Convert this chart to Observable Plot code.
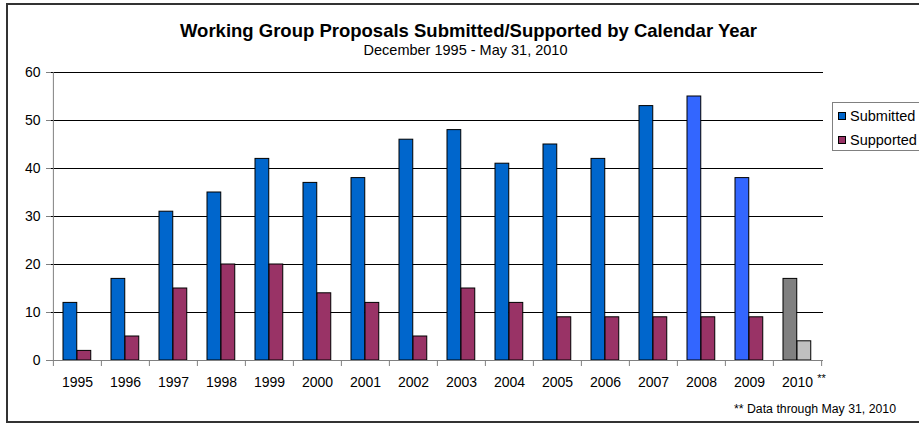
<!DOCTYPE html>
<html>
<head>
<meta charset="utf-8">
<script src="https://cdn.jsdelivr.net/npm/d3@7"></script>
<script src="https://cdn.jsdelivr.net/npm/@observablehq/plot@0.6"></script>
<style>
  html, body { margin: 0; padding: 0; background: #fff; }
  body { width: 919px; height: 424px; overflow: hidden; position: relative; font-family: "Liberation Sans", Arial, sans-serif; }
  #frame { position: absolute; left: 6px; top: 3px; width: 1000px; height: 416px; border-left: 2px solid #333; border-top: 2px solid #333; border-bottom: 2px solid #333; }
  #chart { position: absolute; left: 0; top: 0; }
  .t { position: absolute; white-space: nowrap; color: #000; line-height: 1.15; }
  #title { left: 0; width: 937px; text-align: center; top: 20px; font-size: 18.5px; font-weight: bold; }
  #subtitle { left: 0; width: 931px; text-align: center; top: 41.5px; font-size: 14.5px; }
  #caption { left: 734px; top: 402px; font-size: 12.3px; }
  #legend { position: absolute; left: 832px; top: 102px; width: 120px; height: 47px; border: 1px solid #808080; background: #fff; }
  .li { position: absolute; left: 5px; font-size: 14.5px; line-height: 16px; white-space: nowrap; }
  .sw { display: inline-block; width: 6px; height: 6px; border: 1px solid #000; margin-right: 4px; vertical-align: 1px; }
</style>
</head>
<body>
<div id="frame"></div>
<div id="chart"></div>
<div class="t" id="title">Working Group Proposals Submitted/Supported by Calendar Year</div>
<div class="t" id="subtitle">December 1995 - May 31, 2010</div>
<div id="legend"></div>
<div class="t" id="caption">** Data through May 31, 2010</div>
<script>
const years = ["1995","1996","1997","1998","1999","2000","2001","2002","2003","2004","2005","2006","2007","2008","2009","2010"];
const submitted = [12,17,31,35,42,37,38,46,48,41,45,42,53,55,38,17];
const supported = [2,5,15,20,20,14,12,5,15,12,9,9,9,9,9,4];
const seriesNames = ["Submitted","Supported"];
const yTicks = [0,10,20,30,40,50,60];
const footnoteMark = "**";

const W = 919, H = 424, mL = 51, mR = 96, mT = 72, mB = 64;
const bw = (W - mL - mR) / years.length;

const rows = years.map((y, i) => ({year: y, submitted: submitted[i], supported: supported[i]}));

const subColor = d => d.year === "2010" ? "#808080" : (d.year === "2008" || d.year === "2009") ? "#3366FF" : "#0066CC";
const supColor = d => d.year === "2010" ? "#C0C0C0" : "#993366";

const barW = 14, outer = 10;

const plot = Plot.plot({
  width: W, height: H,
  marginLeft: mL, marginRight: mR, marginTop: mT, marginBottom: mB,
  style: {fontFamily: "'Liberation Sans', Arial, sans-serif", fontSize: "14px", background: "transparent"},
  x: {type: "band", domain: years, padding: 0, label: null},
  y: {domain: [0, 60], label: null},
  color: {type: "identity"},
  marks: [
    Plot.ruleY(yTicks.filter(v => v > 0), {stroke: "#000", strokeWidth: 1}),
    Plot.barY(rows, {x: "year", y: "submitted", fill: subColor, stroke: "#000", strokeWidth: 1,
      insetLeft: outer, insetRight: bw - outer - barW}),
    Plot.barY(rows, {x: "year", y: "supported", fill: supColor, stroke: "#000", strokeWidth: 1,
      insetLeft: outer + barW, insetRight: bw - outer - 2 * barW}),
    Plot.ruleX([years[0]], {dx: -bw / 2, stroke: "#808080"}),
    Plot.ruleY([0], {stroke: "#808080"}),
    Plot.ruleX(years, {dx: -bw / 2, stroke: "#808080", insetTop: H - mT - mB, insetBottom: -6}),
    Plot.ruleX([years[years.length - 1]], {dx: bw / 2, stroke: "#808080", insetTop: H - mT - mB, insetBottom: -6}),
    Plot.axisY({ticks: yTicks, tickSize: 5, tickPadding: 6, stroke: "#808080", fontSize: 14, fill: "#000"}),
    Plot.axisX({tickSize: 0, tickPadding: 17, fontSize: 14, fill: "#000"}),
    Plot.text([years[years.length - 1]], {x: d => d, frameAnchor: "bottom", lineAnchor: "top", dy: 14, dx: 24, text: () => footnoteMark, fontSize: 11, fill: "#000"})
  ]
});
document.getElementById("chart").appendChild(plot);

const legendColors = ["#0066CC", "#993366"];
const legend = document.getElementById("legend");
seriesNames.forEach((name, i) => {
  const el = document.createElement("div");
  el.className = "li";
  el.style.top = (5 + i * 24) + "px";
  el.innerHTML = `<span class="sw" style="background:${legendColors[i]}"></span>${name}`;
  legend.appendChild(el);
});
</script>
</body>
</html>
